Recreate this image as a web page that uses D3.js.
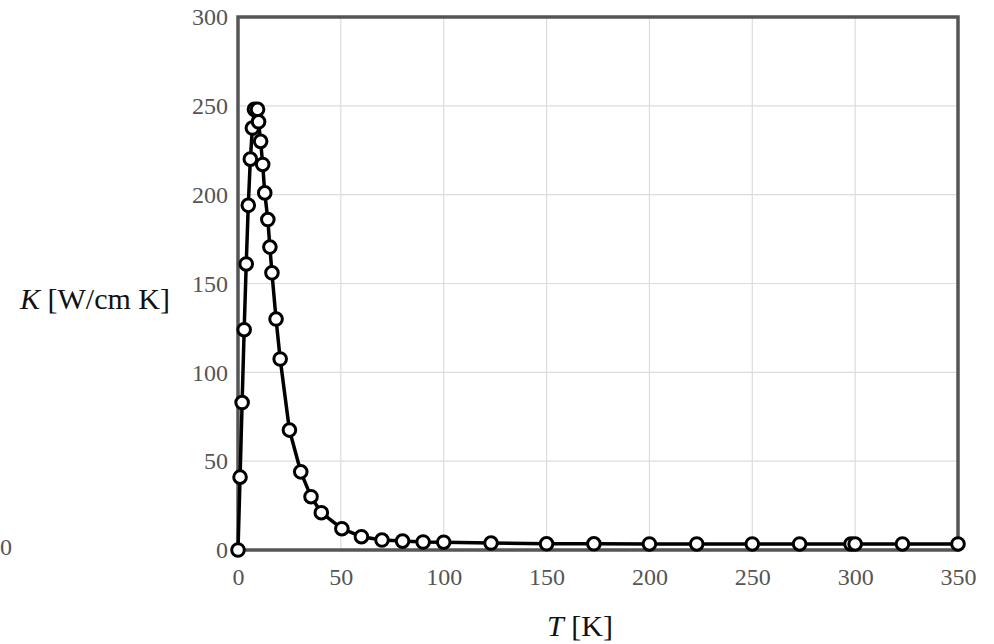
<!DOCTYPE html>
<html>
<head>
<meta charset="utf-8">
<script src="https://cdn.jsdelivr.net/npm/d3@7"></script>
<style>
  body { margin: 0; background: #fff; }
  svg { display: block; }
  text { font-family: "Liberation Serif", "DejaVu Serif", serif; }
</style>
</head>
<body>
<div class="chart"></div>
<script>
// temperature [K] and thermal conductivity [W/cm K]
const temps = [0, 1, 2, 3, 4, 5, 6, 7, 8, 9.5, 10, 11, 12, 13, 14.5, 15.5, 16.5, 18.5, 20.5, 25, 30.5, 35.5, 40.5,
  50.5, 60, 70, 80, 90, 100, 123, 150, 173, 200, 223, 250, 273, 298, 300, 323, 350]
const conds = [0, 41, 83, 124, 161, 194, 220, 237.5, 248, 248, 241, 230, 217, 201, 186, 170.5, 156, 130, 107.5, 67.5, 44, 30, 21,
  12, 7.5, 5.6, 5, 4.5, 4.4, 3.9, 3.5, 3.5, 3.4, 3.4, 3.4, 3.4, 3.4, 3.4, 3.4, 3.4]
const xTicks = [0, 50, 100, 150, 200, 250, 300, 350]
const yTicks = [0, 50, 100, 150, 200, 250, 300]

let w = 994
let h = 644
let padL = 238, padR = 958, padT = 17, padB = 550
const serif = "Liberation Serif"

let svg = d3.select(".chart")
  .append("svg")
  .attr("width", w)
  .attr("height", h)

const xScale = d3.scaleLinear().domain([0, 350]).range([padL, padR])
const yScale = d3.scaleLinear().domain([0, 300]).range([padB, padT])

// grid
svg.append("g")
  .selectAll("line")
  .data(xTicks)
  .enter()
  .append("line")
  .attr("x1", d => xScale(d)).attr("x2", d => xScale(d))
  .attr("y1", padT).attr("y2", padB)
  .style("stroke", "#dcdcdc").style("stroke-width", 1.2)
svg.append("g")
  .selectAll("line")
  .data(yTicks)
  .enter()
  .append("line")
  .attr("x1", padL).attr("x2", padR)
  .attr("y1", d => yScale(d)).attr("y2", d => yScale(d))
  .style("stroke", "#dcdcdc").style("stroke-width", 1.2)

// tick labels via axes, no tick marks
const xAxis = d3.axisBottom(xScale).tickValues(xTicks).tickSize(0).tickPadding(18)
const yAxis = d3.axisLeft(yScale).tickValues(yTicks).tickSize(0).tickPadding(10)

let gx = svg.append("g").attr("transform", "translate(0," + padB + ")").call(xAxis)
let gy = svg.append("g").attr("transform", "translate(" + padL + ",0)").call(yAxis)
for (const g of [gx, gy]) {
  g.attr("font-family", null)
  g.select(".domain").remove()
  g.selectAll("text")
    .attr("font-family", serif)
    .attr("font-size", 24)
    .attr("fill", "#555")
}

// frame
svg.append("rect")
  .attr("x", padL).attr("y", padT)
  .attr("width", padR - padL).attr("height", padB - padT)
  .style("fill", "none")
  .style("stroke", "#555")
  .style("stroke-width", 3.5)

// line + markers
const pts = temps.map((t, i) => [t, conds[i]])
const line = d3.line().x(d => xScale(d[0])).y(d => yScale(d[1]))

svg.append("path")
  .datum(pts)
  .attr("d", line)
  .style("fill", "none")
  .style("stroke", "#000")
  .style("stroke-width", 3.5)
  .style("stroke-linejoin", "round")

svg.selectAll(".dot")
  .data(pts)
  .enter()
  .append("circle")
  .attr("class", "dot")
  .attr("cx", d => xScale(d[0]))
  .attr("cy", d => yScale(d[1]))
  .attr("r", 6.3)
  .style("fill", "#fff")
  .style("stroke", "#000")
  .style("stroke-width", 3)

// axis titles
let yTitle = svg.append("text")
  .attr("x", 20).attr("y", 309)
  .attr("font-family", serif)
  .attr("font-size", 30)
  .attr("fill", "#111")
yTitle.append("tspan").style("font-style", "italic").text("K")
yTitle.append("tspan").text(" [W/cm K]")

let xTitle = svg.append("text")
  .attr("x", 580).attr("y", 636)
  .attr("text-anchor", "middle")
  .attr("font-family", serif)
  .attr("font-size", 30)
  .attr("fill", "#111")
xTitle.append("tspan").style("font-style", "italic").text("T")
xTitle.append("tspan").text(" [K]")

// stray label at far left
svg.append("text")
  .attr("x", 0).attr("y", 555)
  .attr("font-family", serif)
  .attr("font-size", 24)
  .attr("fill", "#555")
  .text("0")
</script>
</body>
</html>
